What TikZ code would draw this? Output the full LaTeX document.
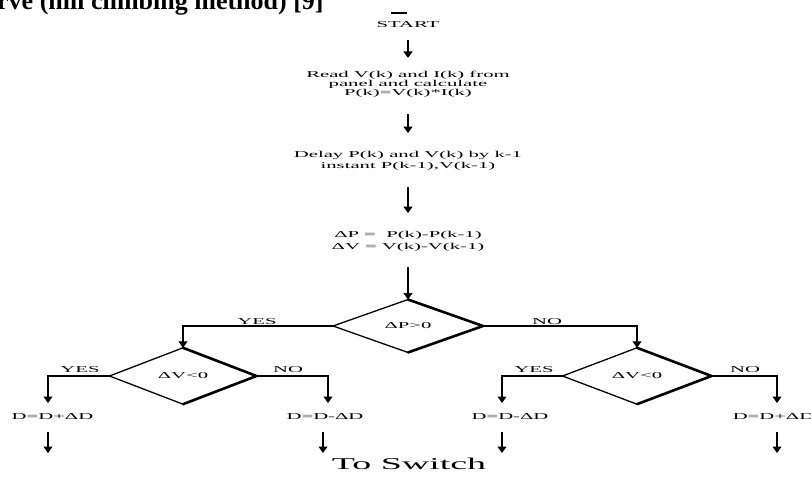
\documentclass[tikz,border=0pt]{standalone}
\usepackage{fontspec}
\setmainfont{Liberation Serif}
\newfontfamily\wideserif{Liberation Serif}[FakeStretch=2.3]
\usetikzlibrary{shapes.geometric,arrows.meta}
\begin{document}
\begin{tikzpicture}[x=1pt,y=-1pt,
  txt/.style={inner sep=0pt, outer sep=0pt, font=\fontsize{9}{9}\wideserif},
  arr/.style={line width=1.1pt, -{Triangle[width=9pt,length=6.5pt]}},
  dia/.style={diamond, draw, line width=1.3pt, minimum width=150pt, minimum height=42pt,
              inner sep=0pt, outer sep=0pt, font=\fontsize{9}{9}\wideserif},
  heavyedge/.style={line width=2.6pt, line cap=round, line join=round}]
\clip (0,0) rectangle (811,478);
\fill[white] (0,0) rectangle (811,478);

% clipped header from the page above
\node[anchor=base west, inner sep=0pt, font=\fontsize{26}{26}\selectfont\bfseries] (hdr) at (-3,10) {rve (hill climbing method) [9]};
\draw[line width=1.4pt] (391,13) -- (407,13);

% main column (base anchor = last line)
\node[txt, anchor=base] (start) at (408,28) {START};
\node[txt, anchor=base, align=center] (read) at (408,96) {Read V(k) and I(k) from\\panel and calculate\\P(k)=V(k)*I(k)};
\node[txt, anchor=base, align=center, font=\fontsize{9}{11}\wideserif] (delay) at (408,169) {Delay P(k) and V(k) by k-1\\instant P(k-1),V(k-1)};
\node[txt, anchor=base, align=center, font=\fontsize{9}{12}\wideserif] (diff) at (408,250) {ΔP =\ \ P(k)-P(k-1)\\ΔV = V(k)-V(k-1)};

\draw[arr, shorten <=12pt, shorten >=13.7pt] (start.south) -- (read.north);
\draw[arr, shorten <=16pt, shorten >=18.7pt] (read.south) -- (delay.north);
\draw[arr, shorten <=16.4pt, shorten >=18.7pt] (delay.south) -- (diff.north);

% decisions
\node[dia] (d1) at (408,326) {ΔP>0};
\node[dia, minimum width=147pt] (d2) at (183,376) {ΔV<0};
\node[dia, minimum width=149pt] (d3) at (637,376) {ΔV<0};
\foreach \d in {d1,d2,d3}{
  \draw[heavyedge] (\d.north) -- (\d.east) -- (\d.south);
}
\draw[arr, shorten <=15.4pt] (diff.south) -- (d1.north);

\draw[arr] (d1.west) -| (d2.north);
\draw[arr] (d1.east) -| (d3.north);
\node[txt, anchor=base] (y1) at (257,324) {YES};
\node[txt, anchor=base] (n1) at (547,324) {NO};

% branch ends
\coordinate (c2l) at (48,403);
\coordinate (c2r) at (328,403);
\coordinate (c3l) at (502,403);
\coordinate (c3r) at (777,403);
\draw[arr] (d2.west) -| (c2l);
\draw[arr] (d2.east) -| (c2r);
\draw[arr] (d3.west) -| (c3l);
\draw[arr] (d3.east) -| (c3r);
\node[txt, anchor=base] (y2) at (80,372) {YES};
\node[txt, anchor=base] (n2) at (288,372) {NO};
\node[txt, anchor=base] (y3) at (534,372) {YES};
\node[txt, anchor=base] (n3) at (745,372) {NO};

% duty updates
\node[txt, anchor=base] (r1) at (52.5,419) {D=D+ΔD};
\node[txt, anchor=base] (r2) at (325,419) {D=D-ΔD};
\node[txt, anchor=base] (r3) at (510,419) {D=D-ΔD};
\node[txt, anchor=base] (r4) at (773.5,419) {D=D+ΔD};

\coordinate (e1) at (48,453);
\coordinate (e2) at (323,453);
\coordinate (e3) at (502,453);
\coordinate (e4) at (777,453);
\draw[arr, shorten <=13pt] (r1.south -| e1) -- (e1);
\draw[arr, shorten <=13pt] (r2.south -| e2) -- (e2);
\draw[arr, shorten <=13pt] (r3.south -| e3) -- (e3);
\draw[arr, shorten <=13pt] (r4.south -| e4) -- (e4);

\node[inner sep=0pt, anchor=base, font=\fontsize{16.5}{16.5}\wideserif] (sw) at (409,469) {To Switch};
\end{tikzpicture}
\end{document}
